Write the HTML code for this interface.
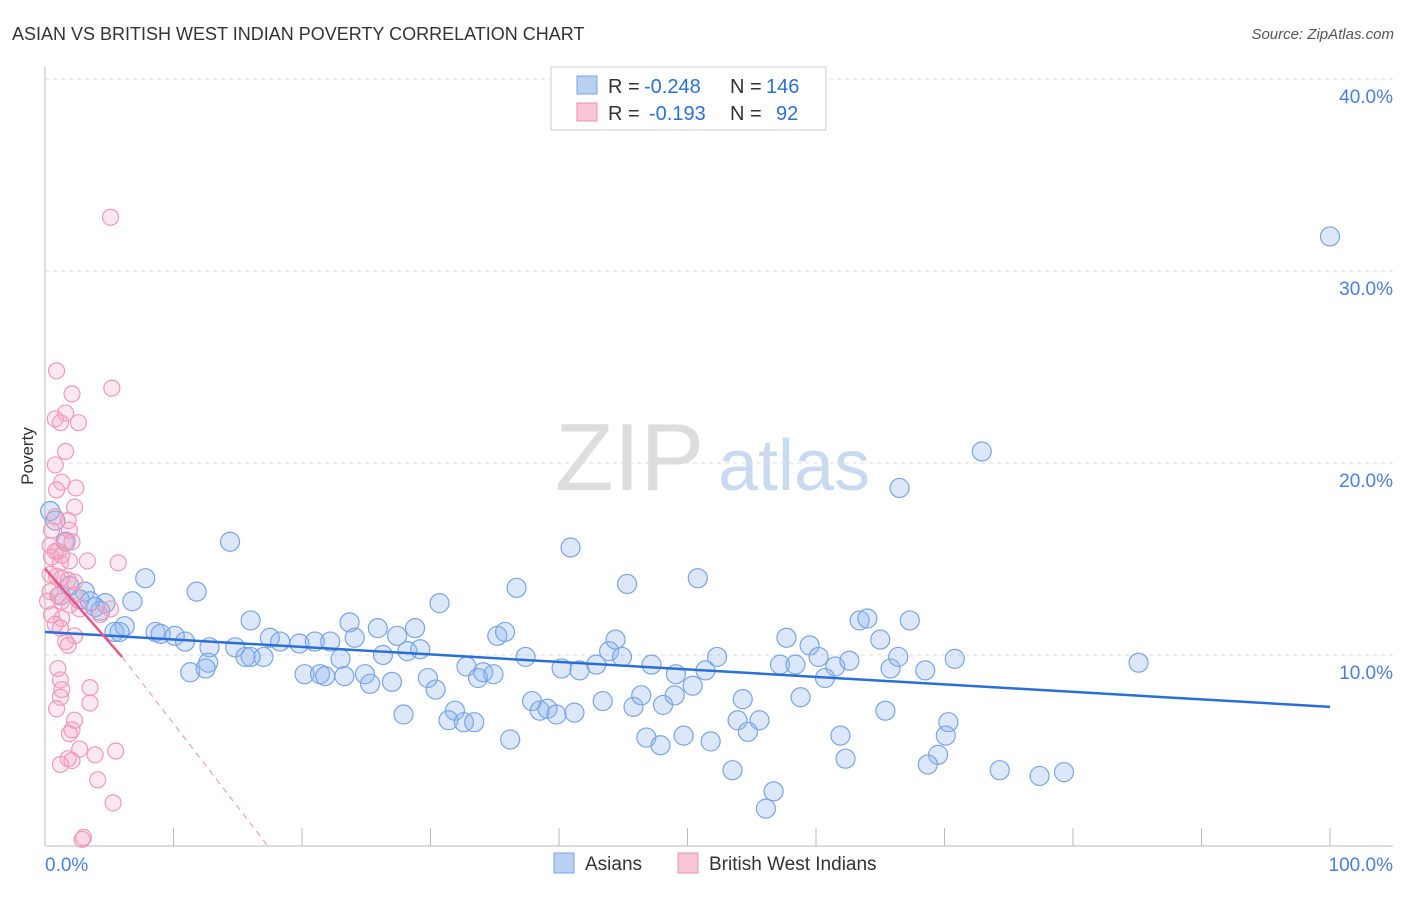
<!DOCTYPE html>
<html><head><meta charset="utf-8"><style>
body{margin:0;background:#fff;font-family:"Liberation Sans",sans-serif;}
svg text{font-family:"Liberation Sans",sans-serif;}
</style></head><body>
<svg id="chart" width="1406" height="892" xmlns="http://www.w3.org/2000/svg">
<text x="12" y="40" font-size="18" fill="#333">ASIAN VS BRITISH WEST INDIAN POVERTY CORRELATION CHART</text>
<text x="1394" y="39" font-size="15" fill="#555" text-anchor="end" font-style="italic">Source: ZipAtlas.com</text>
<text x="555" y="490" font-size="96" fill="#ddd" font-family="Liberation Serif">ZIP</text>
<text x="718" y="490" font-size="72" fill="#c9d9f0">atlas</text>
<g id="grid"></g>
<g id="axes"></g>
<g id="marks"></g>
<text transform="translate(33,456) rotate(-90)" font-size="17" fill="#333" text-anchor="middle">Poverty</text>
<g>
<rect x="551" y="67" width="275" height="63" fill="#fff" stroke="#ccc"/>
<rect x="577" y="76" width="20" height="18" fill="#b8d0f2" stroke="#7aa3e0"/>
<rect x="577" y="103" width="20" height="18" fill="#f8c6d6" stroke="#ee8fb0"/>
<text x="608" y="93" font-size="20" fill="#333">R =</text>
<text x="644" y="93" font-size="20" fill="#2d6fd6">-0.248</text>
<text x="730" y="93" font-size="20" fill="#333">N =</text>
<text x="766" y="93" font-size="20" fill="#2d6fd6">146</text>
<text x="608" y="120" font-size="20" fill="#333">R =</text>
<text x="649" y="120" font-size="20" fill="#2d6fd6">-0.193</text>
<text x="730" y="120" font-size="20" fill="#333">N =</text>
<text x="776" y="120" font-size="20" fill="#2d6fd6">92</text>
</g>
<g>
<rect x="554" y="853" width="20" height="20" fill="#b8d0f2" stroke="#7aa3e0"/>
<text x="585" y="870" font-size="19" fill="#333">Asians</text>
<rect x="678" y="853" width="20" height="20" fill="#f8c6d6" stroke="#ee8fb0"/>
<text x="709" y="870" font-size="19" fill="#333">British West Indians</text>
</g>
</svg>
<script>
const yTicks=[10,20,30,40];
const xTickLabels=["0.0%","100.0%"];
const asianX=[100,72.9,66.5,14.4,40.9,7.8,11.8,45.3,50.8,36.7,30.7,6.8,4.7,3.1,1.9,1.2,3.9,5.4,6.2,8.6,9,10.1,10.9,12.8,14.8,16,17.5,18.3,19.8,21,22.2,23.7,24.1,25.9,26.3,27.4,28.2,28.8,29.2,35.2,35.8,37.4,40.2,41.6,42.9,43.9,44.4,44.9,47.2,49.1,52.3,57.7,59.5,60.2,61.5,62.6,63.4,64,65,65.8,66.4,67.3,68.5,70.8,85.1,57.2,58.4,12.7,15.6,17,11.3,12.5,20.2,21.4,21.8,23,23.3,24.9,25.3,27,29.8,30.4,32.8,33.7,34.1,34.9,37.9,38.5,39.1,39.8,41.2,43.4,45.8,46.4,48.1,49,50.4,51.4,54.3,53.9,55.6,54.7,58.8,60.7,65.4,70.3,70.1,69.5,68.7,74.3,77.4,79.3,27.9,31.4,31.9,32.6,33.4,36.2,46.8,47.9,49.7,51.8,53.5,56.7,56.1,61.9,62.3,16,5.8,4.3,2.7,3.5,0.4,0.8,1.6];
const asianY=[31.8,20.6,18.7,15.9,15.6,14,13.3,13.7,14,13.5,12.7,12.8,12.7,13.3,13.6,13.1,12.5,11.2,11.5,11.2,11.1,11,10.7,10.4,10.4,11.8,10.9,10.7,10.6,10.7,10.7,11.7,10.9,11.4,10,11,10.2,11.4,10.3,11,11.2,9.9,9.3,9.2,9.5,10.2,10.8,9.9,9.5,9,9.9,10.9,10.5,9.9,9.4,9.7,11.8,11.9,10.8,9.3,9.9,11.8,9.2,9.8,9.6,9.5,9.5,9.6,9.9,9.9,9.1,9.3,9,9,8.9,9.8,8.9,9,8.5,8.6,8.8,8.2,9.4,8.8,9.1,9,7.6,7.1,7.2,6.9,7,7.6,7.3,7.9,7.4,7.9,8.4,9.2,7.7,6.6,6.6,6,7.8,8.8,7.1,6.5,5.8,4.8,4.3,4,3.7,3.9,6.9,6.6,7.1,6.5,6.5,5.6,5.7,5.3,5.8,5.5,4,2.9,2,5.8,4.6,9.9,11.2,12.3,12.9,12.8,17.5,17,15.9];
const bwiX=[5.1,0.9,5.2,2.1,0.8,1.6,2.6,1.2,1.6,0.8,1.3,2.4,0.9,2.3,0.8,1.8,0.5,1.9,1.6,2.1,1,0.5,1.2,1.9,3.3,5.7,0.4,0.9,1.3,1.8,2.3,0.4,1,1.3,1.9,2.7,5.1,0.5,1.3,0.8,1.2,2.3,1.6,1.8,1,1.2,3.5,1.3,1.2,3.5,0.9,2.3,2.1,1.9,2.7,5.5,3.9,1.8,2.1,1.2,4.1,5.3,3,2.9,0.4,0.8,1.3,0.2,4.3,2.3];
const bwiY=[32.8,24.8,23.9,23.6,22.3,22.6,22.1,22.1,20.6,19.9,19,18.7,18.6,17.7,17.2,17,16.5,16.5,15.9,15.9,15.4,15.1,14.8,14.9,14.9,14.8,14.2,14.1,14,13.9,13.8,13.3,13.1,12.8,12.6,12.4,12.4,12.1,11.9,11.6,11.4,11,10.7,10.5,9.3,8.7,8.3,8.2,7.8,7.5,7.2,6.6,6.1,5.9,5.1,5,4.8,4.6,4.5,4.3,3.5,2.3,0.5,0.4,15.7,15.4,15.2,12.8,12.1,13.1];
const trendBlue=[[0,11.2],[100,7.3]];
const trendPink=[[0,14.5],[6,9.9],[17.4,0]];
const X=v=>45+v*12.85, Y=v=>847-v*19.2;
const ns="http://www.w3.org/2000/svg";
function mk(tag,attrs,parent){const e=document.createElementNS(ns,tag);for(const k in attrs)e.setAttribute(k,attrs[k]);parent.appendChild(e);return e;}
const grid=document.getElementById('grid'),axes=document.getElementById('axes'),marks=document.getElementById('marks');
yTicks.forEach(t=>{
 const l=mk('line',{x1:45,x2:1393,y1:Y(t),y2:Y(t),stroke:'#ddd','stroke-dasharray':'4,4'},grid);
 
 
 const tx=mk('text',{x:1393,y:Y(t)+24,'font-size':19,fill:'#4a7fd6','text-anchor':'end'},axes);
 tx.textContent=t.toFixed(1)+'%';
 
 
});
mk('line',{x1:45,x2:45,y1:67,y2:846,stroke:'#bbb'},axes);
mk('line',{x1:45,x2:1393,y1:846,y2:846,stroke:'#bbb'},axes);
for(let i=0;i<=10;i++){const t=mk('line',{x1:X(i*10),x2:X(i*10),y1:828,y2:846,stroke:'#bbb'},axes);
 
 }
const xl0=mk('text',{x:45,y:871,'font-size':19,fill:'#4a7fd6'},axes);xl0.textContent=xTickLabels[0];


const xl1=mk('text',{x:1393,y:871,'font-size':19,fill:'#4a7fd6','text-anchor':'end'},axes);xl1.textContent=xTickLabels[1];


asianX.forEach((x,i)=>{const c=mk('circle',{cx:X(x),cy:Y(asianY[i]),r:9.5,fill:'rgba(140,178,238,0.3)',stroke:'#7aa5e3','stroke-width':1.2},marks);
 
 });
bwiX.forEach((x,i)=>{const c=mk('circle',{cx:X(x),cy:Y(bwiY[i]),r:8,fill:'rgba(245,165,195,0.25)',stroke:'#f09ab8','stroke-width':1.2},marks);
 
 });
const tb=mk('line',{x1:X(trendBlue[0][0]),y1:Y(trendBlue[0][1]),x2:X(trendBlue[1][0]),y2:Y(trendBlue[1][1]),stroke:'#2a6fd6','stroke-width':2.5},marks);


const tp=mk('line',{x1:X(trendPink[0][0]),y1:Y(trendPink[0][1]),x2:X(trendPink[1][0]),y2:Y(trendPink[1][1]),stroke:'#e8578a','stroke-width':2.5},marks);


const tpd=mk('line',{x1:X(trendPink[1][0]),y1:Y(trendPink[1][1]),x2:X(trendPink[2][0]),y2:Y(trendPink[2][1]),stroke:'#f0a0bc','stroke-width':1.2,'stroke-dasharray':'6,5'},marks);


</script>
</body></html>
